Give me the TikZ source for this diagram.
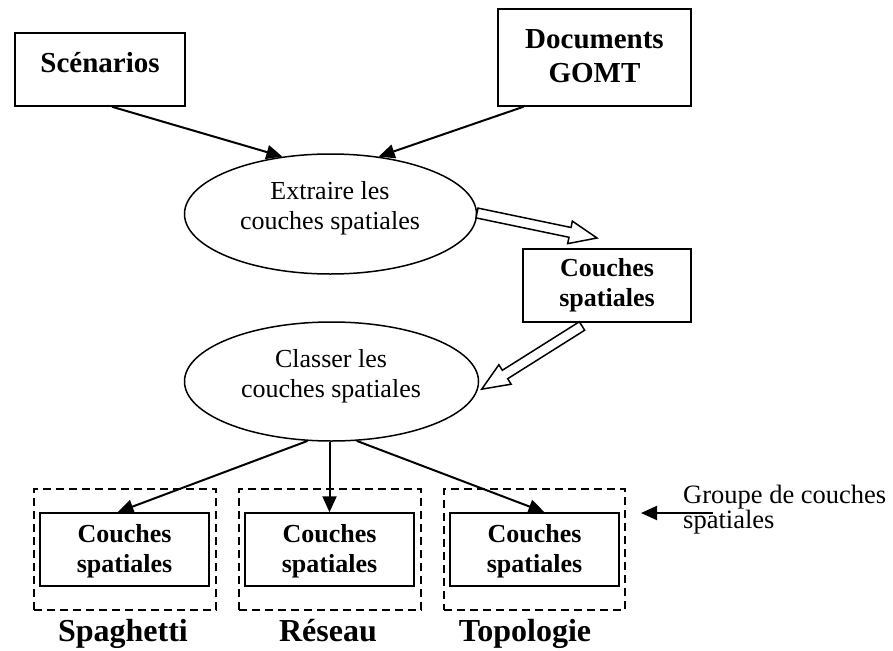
\documentclass[tikz,border=0pt]{standalone}
\usepackage{fontspec}
\setmainfont{Liberation Serif}
\usetikzlibrary{arrows.meta,shapes.geometric}
\begin{document}
\begin{tikzpicture}[x=1pt,y=-1pt,
  box/.style={draw,line width=1.5pt,inner sep=0pt},
  oval/.style={draw,ellipse,line width=1.5pt,inner sep=0pt},
  dbox/.style={draw,line width=1.3pt,dash pattern=on 8pt off 5pt,inner sep=0pt},
  txt/.style={align=center,inner sep=0pt},
  btxt/.style={txt,font=\bfseries\fontsize{26}{30}\selectfont},
  rtxt/.style={txt,font=\fontsize{26}{30}\selectfont},
  lab/.style={inner sep=0pt,anchor=base,font=\bfseries\fontsize{32}{36}\selectfont},
  conn/.style={line width=2pt,-{Triangle[length=16pt,width=14pt]}},
  hollow/.style={draw,line width=1.5pt,fill=white,line join=miter}
]
\useasboundingbox (0,0) rectangle (893,650);

% top boxes
\node[box,minimum width=170pt,minimum height=73pt] (scen) at (100,69.5) {};
\node[txt,font=\bfseries\fontsize{29}{34}\selectfont] (scent) at (100,63) {Scénarios};
\node[box,minimum width=193pt,minimum height=97pt] (doc) at (594.5,57.5) {};
\node[txt,font=\bfseries\fontsize{29}{34}\selectfont] (doct) at (594.5,56) {Documents\\GOMT};

% ellipse 1
\node[oval,minimum width=292pt,minimum height=120pt] (ext) at (330.5,214) {};
\node[rtxt] (extt) at (330,208) {Extraire les\\couches spatiales};

% right box
\node[box,minimum width=168pt,minimum height=73pt] (cs) at (607,285.5) {};
\node[btxt] (cst) at (607,285) {Couches\\spatiales};

% ellipse 2
\node[oval,minimum width=294pt,minimum height=119pt] (cla) at (331.5,381.5) {};
\node[rtxt] (clat) at (331,376) {Classer les\\couches spatiales};

% dashed groups
\node[dbox,minimum width=182pt,minimum height=121pt] (g1) at (125,549.5) {};
\node[dbox,minimum width=182pt,minimum height=121pt] (g2) at (330,549.5) {};
\node[dbox,minimum width=181pt,minimum height=121pt] (g3) at (534.5,549.5) {};
\node[box,minimum width=169pt,minimum height=73pt] (b1) at (124.5,549.5) {};
\node[box,minimum width=169pt,minimum height=73pt] (b2) at (329.5,549.5) {};
\node[box,minimum width=169pt,minimum height=73pt] (b3) at (534.5,549.5) {};
\node[btxt] (b1t) at (124.5,551) {Couches\\spatiales};
\node[btxt] (b2t) at (329.5,551) {Couches\\spatiales};
\node[btxt] (b3t) at (534.5,551) {Couches\\spatiales};

% labels
\node[lab] (l1) at (123,641) {Spaghetti};
\node[lab] (l2) at (328,641) {Réseau};
\node[lab] (l3) at (525,641) {Topologie};

\node[inner sep=0pt,align=left,anchor=west,font=\fontsize{26.5}{25}\selectfont] (grp) at (683,510) {Groupe de couches\\spatiales};

% connectors
\draw[conn] ([xshift=12pt]scen.south) -- (ext.130);
\draw[conn] ([xshift=-71pt]doc.south) -- (ext.50);
\draw[conn] (cla.248) -- ([xshift=-7pt]b1.north);
\draw[conn] (b2.north |- cla.south) -- (b2.north);
\draw[conn] (cla.293) -- ([xshift=10pt]b3.north);
\coordinate (gs) at (713,513);
\coordinate (ge) at (641,513);
\draw[conn] (gs) -- (ge);

% hollow arrows
\begin{scope}[shift={(477,213)},rotate=-11.77]
\draw[hollow] (0,-5) -- (95,-5) -- (95,-11.5) -- (122.6,0) -- (95,11.5) -- (95,5) -- (0,5) -- cycle;
\end{scope}
\begin{scope}[shift={(582,326)},rotate=-147.8]
\draw[hollow] (0,-5) -- (91,-5) -- (91,-11.5) -- (118.5,0) -- (91,11.5) -- (91,5) -- (0,5) -- cycle;
\end{scope}
\end{tikzpicture}
\end{document}
